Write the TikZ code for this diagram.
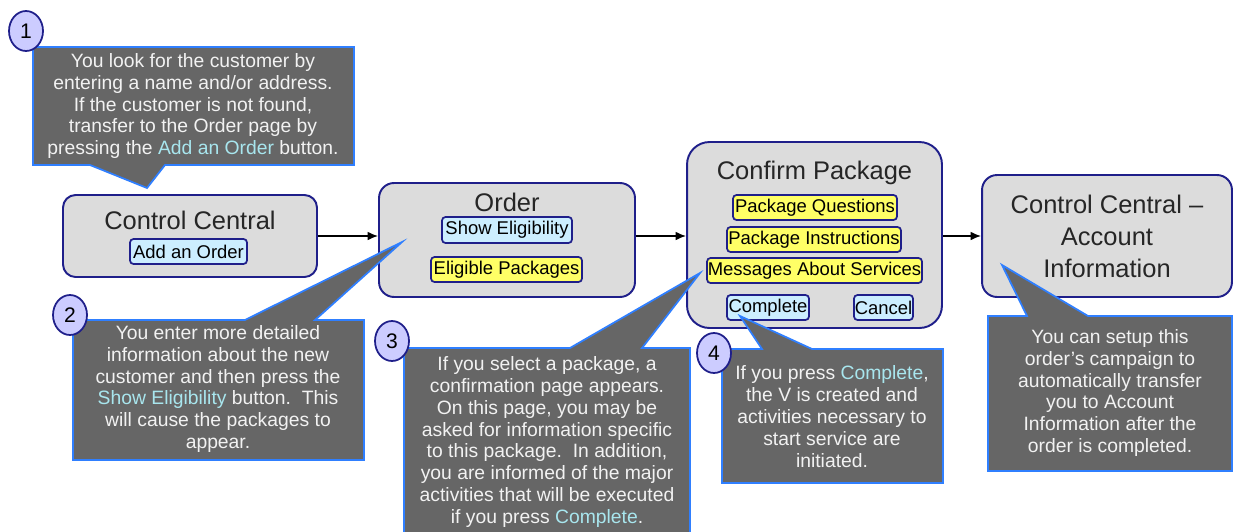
\documentclass[tikz,border=0pt]{standalone}
\usepackage{fontspec}
\setmainfont{Liberation Sans}
\usetikzlibrary{arrows.meta,shapes.geometric}
\definecolor{boxfill}{HTML}{DCDCDC}
\definecolor{boxline}{HTML}{1F1F8A}
\definecolor{btnblue}{HTML}{CCEEFF}
\definecolor{btnyellow}{HTML}{FFFF66}
\definecolor{callfill}{HTML}{666666}
\definecolor{callline}{HTML}{2F7FFF}
\definecolor{calltext}{HTML}{F2F2F2}
\definecolor{hltext}{HTML}{A8E6EE}
\definecolor{numfill}{HTML}{CCCCFF}
\newcommand{\hlt}[1]{\textcolor{hltext}{#1}}
\begin{document}
\begin{tikzpicture}[x=0.02cm,y=-0.02cm,
 page/.style={draw=boxline, line width=1.1pt, fill=boxfill, inner sep=0pt},
 title/.style={font=\fontsize{14.5}{18}\selectfont, align=center, text=black!85, inner sep=0pt},
 btn/.style={draw=boxline, line width=1pt, rounded corners=2pt, inner sep=0pt, font=\fontsize{10.5}{12}\selectfont, minimum height=0.5cm},
 bluebtn/.style={btn, fill=btnblue},
 yelbtn/.style={btn, fill=btnyellow},
 flow/.style={-{Latex[length=6pt,width=5pt]}, line width=0.8pt},
 callout/.style={fill=callfill, draw=callline, line width=1pt},
 calltxt/.style={text=calltext, align=center, font=\fontsize{11}{12.5}\selectfont, inner sep=0pt},
 num/.style={ellipse, draw=boxline, line width=1pt, fill=numfill, minimum width=0.68cm, minimum height=0.8cm, inner sep=0pt, font=\fontsize{12}{14}\selectfont}
]
\useasboundingbox (0,0) rectangle (1233,531);

% pages
\node[page, rounded corners=0.25cm, minimum width=5.08cm, minimum height=1.64cm] (cc) at (190,236) {};
\node[page, rounded corners=0.3cm, minimum width=5.12cm, minimum height=2.28cm] (order) at (507,240) {};
\node[page, rounded corners=0.45cm, minimum width=5.10cm, minimum height=3.72cm] (confirm) at (814.5,235) {};
\node[page, rounded corners=0.3cm, minimum width=5.0cm, minimum height=2.44cm] (ccai) at (1107,236) {};

\node[title] (cct) at (190,220) {Control Central};
\node[title] (ordert) at (507,202) {Order};
\node[title] (confirmt) at (814.5,173) {Confirm Package};
\node[title, font=\fontsize{14.5}{18.2}\selectfont] (ccait) at (1107,236) {Control Central --\\Account\\Information};

% buttons
\node[bluebtn, minimum width=2.34cm] (addorder) at (188.5,251.5) {Add an Order};
\node[bluebtn, minimum width=2.6cm, minimum height=0.52cm] (showelig) at (507,230) {Show Eligibility};
\node[yelbtn, minimum width=3.02cm] (eligpk) at (506.5,269.5) {Eligible Packages};
\node[yelbtn, minimum width=3.28cm] (pq) at (815,207.5) {Package Questions};
\node[yelbtn, minimum width=3.48cm] (pi) at (814,239.5) {Package Instructions};
\node[yelbtn, minimum width=4.30cm] (mas) at (814.5,270.5) {Messages About Services};
\node[bluebtn, minimum width=1.64cm] (complete) at (768,307.5) {Complete};
\node[bluebtn, minimum width=1.18cm] (cancel) at (883.5,307.5) {Cancel};

% flow arrows
\draw[flow] (cc.east) -- (cc.east -| order.west);
\draw[flow] (order.east |- cc.east) -- (order.east |- cc.east -| confirm.west);
\draw[flow] (confirm.east |- cc.east) -- (confirm.east |- cc.east -| ccai.west);

% callouts
\draw[callout] (33,47) -- (354,47) -- (354,165) -- (165,165) -- (147,188) -- (90,165) -- (33,165) -- cycle;
\node[calltxt] (t1) at (193,106) {You look for the customer by\\entering a name and/or address.\\If the customer is not found,\\transfer to the Order page by\\pressing the \hlt{Add an Order} button.};

\draw[callout] (73,320) -- (245,320) -- (402,242) -- (315,320) -- (364,320) -- (364,460) -- (73,460) -- cycle;
\node[calltxt] (t2) at (218,389) {You enter more detailed\\information about the new\\customer and then press the\\\hlt{Show Eligibility} button.\ \ This\\will cause the packages to\\appear.};

\draw[callout] (404,348) -- (570,348) -- (700,273) -- (642,348) -- (690,348) -- (690,545) -- (404,545) -- cycle;
\node[calltxt] (t3) at (547,442) {If you select a package, a\\confirmation page appears.\\On this page, you may be\\asked for information specific\\to this package.\ \ In addition,\\you are informed of the major\\activities that will be executed\\if you press \hlt{Complete}.};

\draw[callout] (722,349) -- (762,349) -- (740,316) -- (812,349) -- (943,349) -- (943,483) -- (722,483) -- cycle;
\node[calltxt] (t4) at (832,417) {If you press \hlt{Complete},\\the V is created and\\activities necessary to\\start service are\\initiated.};

\draw[callout] (988,316) -- (1027,316) -- (1002,265) -- (1088,316) -- (1232,316) -- (1232,471) -- (988,471) -- cycle;
\node[calltxt] (t5) at (1110,393) {You can setup this\\order's campaign to\\automatically transfer\\you to Account\\Information after the\\order is completed.};

% step numbers
\node[num] (n1) at (26,31) {1};
\node[num] (n2) at (70,315) {2};
\node[num] (n3) at (392,341) {3};
\node[num] (n4) at (714,353) {4};
\end{tikzpicture}
\end{document}
